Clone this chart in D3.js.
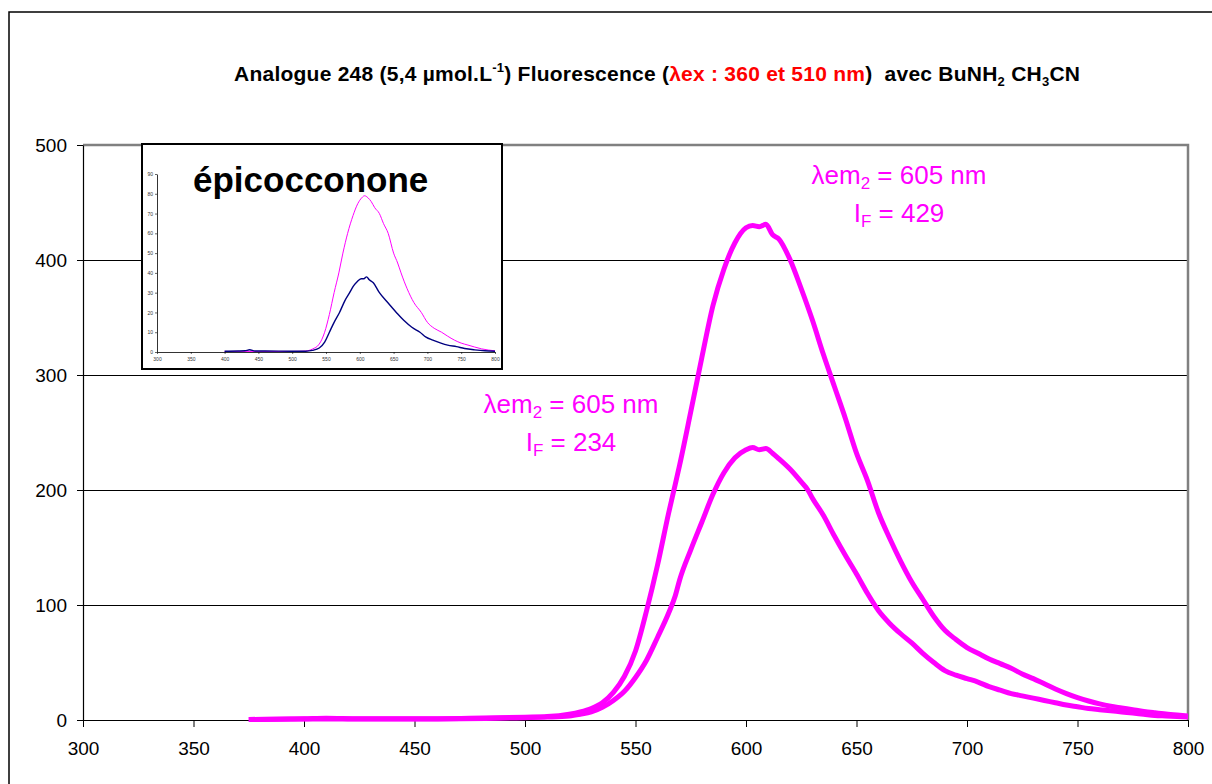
<!DOCTYPE html>
<html>
<head>
<meta charset="utf-8">
<script src="https://cdn.jsdelivr.net/npm/d3@7/dist/d3.min.js"></script>
<style>
  html, body { margin: 0; padding: 0; background: #fff; }
  svg { display: block; font-family: Arial, "Liberation Sans", sans-serif; }
</style>
</head>
<body>
<svg id="chart" width="1212" height="784"></svg>
<script>
// ---------- DATA ----------
const xTicks = [300, 350, 400, 450, 500, 550, 600, 650, 700, 750, 800];
const yTicks = [0, 100, 200, 300, 400, 500];

// Main curve, 510 nm excitation (peak 429)
const waveA = [375, 400, 410, 425, 450, 475, 500, 510, 520, 525, 530, 535, 540, 545, 550, 555, 560, 565, 568, 570,
  575, 580, 585, 590, 595, 600, 603, 606, 609, 612, 615, 620, 625, 630, 635, 640, 645, 650, 655, 660,
  665, 670, 675, 680, 685, 690, 695, 700, 705, 710, 715, 720, 725, 730, 735, 740, 745, 750, 755, 760,
  765, 770, 775, 780, 785, 790, 795, 800];
const intensityA = [0.5, 1, 1.5, 1, 1, 1.5, 2.5, 3, 5, 7, 10, 15, 24, 38, 60, 95, 135, 180, 205, 222,
  268, 315, 360, 392, 415, 428, 430, 429, 431, 422, 418, 400, 375, 348, 318, 290, 262, 232, 208, 180,
  158, 138, 120, 105, 90, 78, 70, 63, 58, 53, 49, 45, 40, 36, 31.5, 27, 23, 19.5, 16.5, 14,
  12, 10.5, 9, 7.5, 6.3, 5.2, 4.3, 3.5];

// Main curve, 360 nm excitation (peak 234)
const waveB = [375, 400, 450, 500, 510, 520, 525, 530, 535, 540, 545, 550, 555, 560, 565, 568, 570, 575, 580, 585,
  590, 595, 600, 603, 606, 609, 612, 615, 620, 625, 628, 630, 635, 640, 645, 650, 655, 660, 665, 670,
  675, 680, 685, 690, 695, 700, 705, 710, 715, 720, 725, 730, 735, 740, 745, 750, 755, 760, 765, 770,
  775, 780, 785, 790, 795, 800];
const intensityB = [0.5, 0.8, 0.8, 2, 2.5, 3.5, 5, 7, 11, 17, 25, 37, 52, 72, 93, 108, 122, 148, 172, 196,
  215, 228, 235, 237, 235, 236, 232, 227, 218, 207, 200, 193, 178, 160, 143, 127, 110, 95, 84, 75,
  67, 58, 50, 43, 39, 36, 33, 29, 26, 23, 21, 19, 17, 15, 13, 11.5, 10, 9, 8, 7,
  6, 5, 4, 3.5, 3, 2.5];

// Inset (épicocconone) curves
const insetXTicks = [300, 350, 400, 450, 500, 550, 600, 650, 700, 750, 800];
const insetYTicks = [0, 10, 20, 30, 40, 50, 60, 70, 80, 90];
const waveInsetM = [400, 450, 500, 520, 530, 540, 548, 555, 562, 569, 575, 582, 590, 597, 603, 607, 612, 617, 622, 629,
  635, 642, 650, 656, 661, 670, 680, 691, 700, 710, 721, 730, 740, 750, 760, 770, 780, 790, 800];
const intensityInsetM = [0.3, 0.3, 0.3, 0.5, 1.5, 4, 10, 19, 30, 40, 50, 60, 69, 75, 78, 79, 78, 76, 73, 70,
  65, 60, 50, 45, 40, 32, 25, 20, 15, 12, 10, 8, 6, 4.5, 3.5, 2.5, 1.6, 1, 0.6];
const waveInsetN = [400, 420, 430, 437, 445, 460, 500, 520, 530, 540, 548, 555, 562, 570, 578, 585, 590, 596, 602, 606,
  610, 614, 620, 629, 640, 654, 665, 677, 689, 698, 708, 720, 730, 743, 755, 770, 785, 800];
const intensityInsetN = [0.4, 0.5, 0.6, 1.1, 0.5, 0.5, 0.4, 0.4, 0.8, 2, 5, 10, 15, 20, 26, 30, 33, 35.5, 37, 37,
  38, 36.5, 35, 30, 25.5, 20, 16, 12.5, 10, 7.5, 6, 4.5, 3.5, 2.7, 1.8, 1.1, 0.6, 0.4];

// ---------- DRAW ----------
const svg = d3.select("#chart");
const MAGENTA = "#ff00ff";

svg.append("rect").attr("width", 1212).attr("height", 784).attr("fill", "#fff");
// outer chart frame
svg.append("rect").attr("x", 9).attr("y", 12).attr("width", 1230).attr("height", 800)
  .attr("fill", "none").attr("stroke", "#000").attr("stroke-width", 1.5);

// Title
const title = svg.append("text").attr("x", 657).attr("y", 81).attr("text-anchor", "middle")
  .attr("font-size", 21).attr("font-weight", "bold").attr("fill", "#000")
  .attr("textLength", 846).attr("lengthAdjust", "spacing");
title.append("tspan").text("Analogue 248 (5,4 µmol.L");
title.append("tspan").attr("font-size", 13).attr("dy", -9).text("-1");
title.append("tspan").attr("dy", 9).text(") Fluorescence (");
title.append("tspan").attr("fill", "#ff0000").text("λex : 360 et 510 nm");
title.append("tspan").text(")\u00a0 avec BuNH");
title.append("tspan").attr("font-size", 13).attr("dy", 5).text("2");
title.append("tspan").attr("dy", -5).text(" CH");
title.append("tspan").attr("font-size", 13).attr("dy", 5).text("3");
title.append("tspan").attr("dy", -5).text("CN");

// Scales
const x = d3.scaleLinear().domain([300, 800]).range([83, 1188]);
const y = d3.scaleLinear().domain([0, 500]).range([720, 145]);

// gridlines
svg.append("g").selectAll("line").data(yTicks.filter(d => d > 0 && d < 500)).join("line")
  .attr("x1", x(300)).attr("x2", x(800)).attr("y1", d => y(d)).attr("y2", d => y(d))
  .attr("stroke", "#000").attr("stroke-width", 1).attr("shape-rendering", "crispEdges");

// plot border top/right (gray)
svg.append("path")
  .attr("d", `M${x(300)},${y(500)}H${x(800)}V${y(0)}`)
  .attr("fill", "none").attr("stroke", "#808080").attr("stroke-width", 2.5);

// axes
const yAxis = svg.append("g").attr("transform", `translate(${x(300)},0)`)
  .call(d3.axisLeft(y).tickValues(yTicks).tickSize(6).tickSizeOuter(0).tickPadding(10));
const xAxis = svg.append("g").attr("transform", `translate(0,${y(0)})`)
  .call(d3.axisBottom(x).tickValues(xTicks).tickSize(7).tickSizeOuter(0).tickPadding(15));
[yAxis, xAxis].forEach(g => {
  g.selectAll("text").attr("font-size", 19).attr("fill", "#000")
    .attr("font-family", "Arial, 'Liberation Sans', sans-serif");
  g.selectAll("line").attr("stroke", "#000");
  g.select(".domain").attr("stroke", "#000").attr("stroke-width", 1.2);
});

// curves
const line = d3.line().x(d => x(d[0])).y(d => y(d[1])).curve(d3.curveMonotoneX);
const seriesA = waveA.map((w, i) => [w, intensityA[i]]);
const seriesB = waveB.map((w, i) => [w, intensityB[i]]);
[seriesB, seriesA].forEach(s => {
  svg.append("path").datum(s).attr("d", line).attr("fill", "none")
    .attr("stroke", MAGENTA).attr("stroke-width", 5).attr("stroke-linejoin", "round");
});

// annotations
function annot(cx, y1, y2, val) {
  const t1 = svg.append("text").attr("x", cx).attr("y", y1).attr("text-anchor", "middle")
    .attr("font-size", 26).attr("fill", MAGENTA);
  t1.append("tspan").text("λem");
  t1.append("tspan").attr("font-size", 17).attr("dy", 5).text("2");
  t1.append("tspan").attr("dy", -5).text(" = 605 nm");
  const t2 = svg.append("text").attr("x", cx).attr("y", y2).attr("text-anchor", "middle")
    .attr("font-size", 26).attr("fill", MAGENTA);
  t2.append("tspan").text("I");
  t2.append("tspan").attr("font-size", 17).attr("dy", 5).text("F");
  t2.append("tspan").attr("dy", -5).text(" = " + val);
}
annot(899, 184, 222, "429");
annot(571, 413, 451, "234");

// ---------- INSET ----------
const inset = svg.append("g");
inset.append("rect").attr("x", 142).attr("y", 144).attr("width", 360).attr("height", 225)
  .attr("fill", "#fff").attr("stroke", "#000").attr("stroke-width", 2);
const ix = d3.scaleLinear().domain([300, 800]).range([157, 495]);
const iy = d3.scaleLinear().domain([0, 90]).range([352, 174]);
const iyAxis = inset.append("g").attr("transform", `translate(${ix(300)},0)`)
  .call(d3.axisLeft(iy).tickValues(insetYTicks).tickSize(2).tickSizeOuter(0).tickPadding(2));
const ixAxis = inset.append("g").attr("transform", `translate(0,${iy(0)})`)
  .call(d3.axisBottom(ix).tickValues(insetXTicks).tickSize(2).tickSizeOuter(0).tickPadding(3));
[iyAxis, ixAxis].forEach(g => {
  g.selectAll("text").attr("font-size", 5).attr("fill", "#333")
    .attr("font-family", "Arial, 'Liberation Sans', sans-serif");
  g.selectAll("line").attr("stroke", "#000").attr("stroke-width", 0.6);
  g.select(".domain").attr("stroke", "#000").attr("stroke-width", 0.8);
});
const iline = d3.line().x(d => ix(d[0])).y(d => iy(d[1])).curve(d3.curveMonotoneX);
inset.append("path").datum(waveInsetM.map((w, i) => [w, intensityInsetM[i]])).attr("d", iline)
  .attr("fill", "none").attr("stroke", MAGENTA).attr("stroke-width", 1);
inset.append("path").datum(waveInsetN.map((w, i) => [w, intensityInsetN[i]])).attr("d", iline)
  .attr("fill", "none").attr("stroke", "#000080").attr("stroke-width", 1.4);
inset.append("text").attr("x", 193).attr("y", 192).attr("font-size", 35).attr("font-weight", "bold")
  .attr("fill", "#000").text("épicocconone");
</script>
</body>
</html>
